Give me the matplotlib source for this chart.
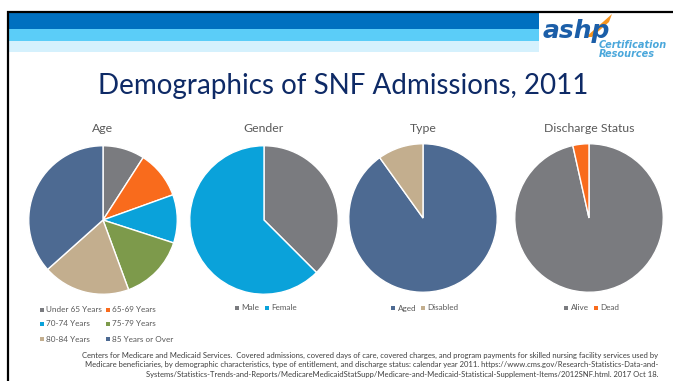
import matplotlib
matplotlib.use("Agg")
import matplotlib.pyplot as plt
from matplotlib.patches import Rectangle, Polygon

# ---- data -------------------------------------------------------------
age_labels = ["Under 65 Years", "65-69 Years", "70-74 Years",
              "75-79 Years", "80-84 Years", "85 Years or Over"]
age_values = [9.1, 10.4, 10.5, 14.4, 19.0, 36.6]

gender_labels = ["Male", "Female"]
gender_values = [37.5, 62.5]

type_labels = ["Aged", "Disabled"]
type_values = [90.1, 9.9]

discharge_labels = ["Alive", "Dead"]
discharge_values = [96.5, 3.5]

# ---- style ------------------------------------------------------------
GRAY = "#7a7b7f"
ORANGE = "#f96b1c"
BLUE = "#0aa2da"
GREEN = "#7d9a4b"
TAN = "#c3ae8e"
NAVY = "#4d6a92"
TEXT_GRAY = "#595959"
TITLE_BLUE = "#0e2a66"

age_colors = [GRAY, ORANGE, BLUE, GREEN, TAN, NAVY]
gender_colors = [GRAY, BLUE]
type_colors = [NAVY, TAN]
discharge_colors = [GRAY, ORANGE]

FONT = "Lato"
W, H = 673, 381
fig = plt.figure(figsize=(W / 100, H / 100), dpi=100)


def px_axes(x0, y0, w, h):
    """Axes placed in pixel coordinates measured from the top-left corner."""
    return fig.add_axes([x0 / W, 1 - (y0 + h) / H, w / W, h / H])


# ---- slide frame and header bands --------------------------------------
frame = px_axes(0, 0, W, H)
frame.set_xlim(0, W)
frame.set_ylim(H, 0)
frame.axis("off")
frame.add_patch(Rectangle((7, 13), 532, 16, color="#0070c0", lw=0))
frame.add_patch(Rectangle((7, 29), 532, 12, color="#5bcdf8", lw=0))
frame.add_patch(Rectangle((7, 41), 532, 11, color="#d5f1fd", lw=0))
frame.plot([7, W], [11.5, 11.5], color="black", lw=1.6, solid_capstyle="butt")
frame.plot([7.5, 7.5], [11, H], color="black", lw=1.6, solid_capstyle="butt")

# logo
frame.add_patch(Polygon([[586, 37], [612, 14], [609, 22], [592, 37]],
                        closed=True, color="#f7941d", lw=0))
frame.text(543, 38, "ashp", fontsize=18, fontweight="black", style="italic",
           color="#1b5ea8", family="DejaVu Sans", va="baseline", ha="left")
frame.text(599, 45, "Certification", fontsize=7.0, fontweight="bold",
           style="italic", color="#4aa7db", family="DejaVu Sans",
           va="center", ha="left")
frame.text(599, 54, "Resources", fontsize=7.0, fontweight="bold",
           style="italic", color="#4aa7db", family="DejaVu Sans",
           va="center", ha="left")

# slide title
frame.text(343, 86, "Demographics of SNF Admissions, 2011", fontsize=20.0,
           color=TITLE_BLUE, family=FONT, ha="center", va="center")

# ---- pies -------------------------------------------------------------
R = 75
charts = [
    ("Age", age_values, age_colors, 103, 220),
    ("Gender", gender_values, gender_colors, 264, 220),
    ("Type", type_values, type_colors, 423, 218),
    ("Discharge Status", discharge_values, discharge_colors, 589, 218),
]
for title, vals, cols, cx, cy in charts:
    ax = px_axes(cx - R, cy - R, 2 * R, 2 * R)
    ax.pie(vals, colors=cols, startangle=90, counterclock=False, radius=1,
           wedgeprops=dict(edgecolor="white", linewidth=1.0))
    ax.set_xlim(-1.01, 1.01)
    ax.set_ylim(-1.01, 1.01)
    ax.set_aspect("equal")
    ax.axis("off")
    frame.text(cx, 129, title, fontsize=8.8, color=TEXT_GRAY, family=FONT,
               ha="center", va="center")


# ---- legends ----------------------------------------------------------
def legend_item(x, y, label, color):
    frame.add_patch(Rectangle((x - 2, y - 2), 4, 4, color=color, lw=0))
    frame.text(x + 4.5, y, label, fontsize=5.9, color=TEXT_GRAY,
               family=FONT, ha="left", va="center")


age_pos = [(42, 310), (108, 310), (42, 324), (108, 324), (42, 339), (108, 339)]
for (x, y), lab, col in zip(age_pos, age_labels, age_colors):
    legend_item(x, y, lab, col)
for x, lab, col in zip([237, 267], gender_labels, gender_colors):
    legend_item(x, 308, lab, col)
for x, lab, col in zip([393, 423], type_labels, type_colors):
    legend_item(x, 308, lab, col)
for x, lab, col in zip([566, 596], discharge_labels, discharge_colors):
    legend_item(x, 308, lab, col)

# ---- source note -------------------------------------------------------
source = [
    "Centers for Medicare and Medicaid Services.  Covered admissions, covered days of care, "
    "covered charges, and program payments for skilled nursing facility services used by",
    "Medicare beneficiaries, by demographic characteristics, type of entitlement, and "
    "discharge status: calendar year 2011. https://www.cms.gov/Research-Statistics-Data-and-",
    "Systems/Statistics-Trends-and-Reports/MedicareMedicaidStatSupp/Medicare-and-Medicaid-"
    "Statistical-Supplement-Items/2012SNF.html. 2017 Oct 18.",
]
for i, line in enumerate(source):
    frame.text(658, 355 + 9.7 * i, line, fontsize=5.5, color="#3f3f3f",
               family=FONT, ha="right", va="center")

fig.savefig("out.png", dpi=100)
